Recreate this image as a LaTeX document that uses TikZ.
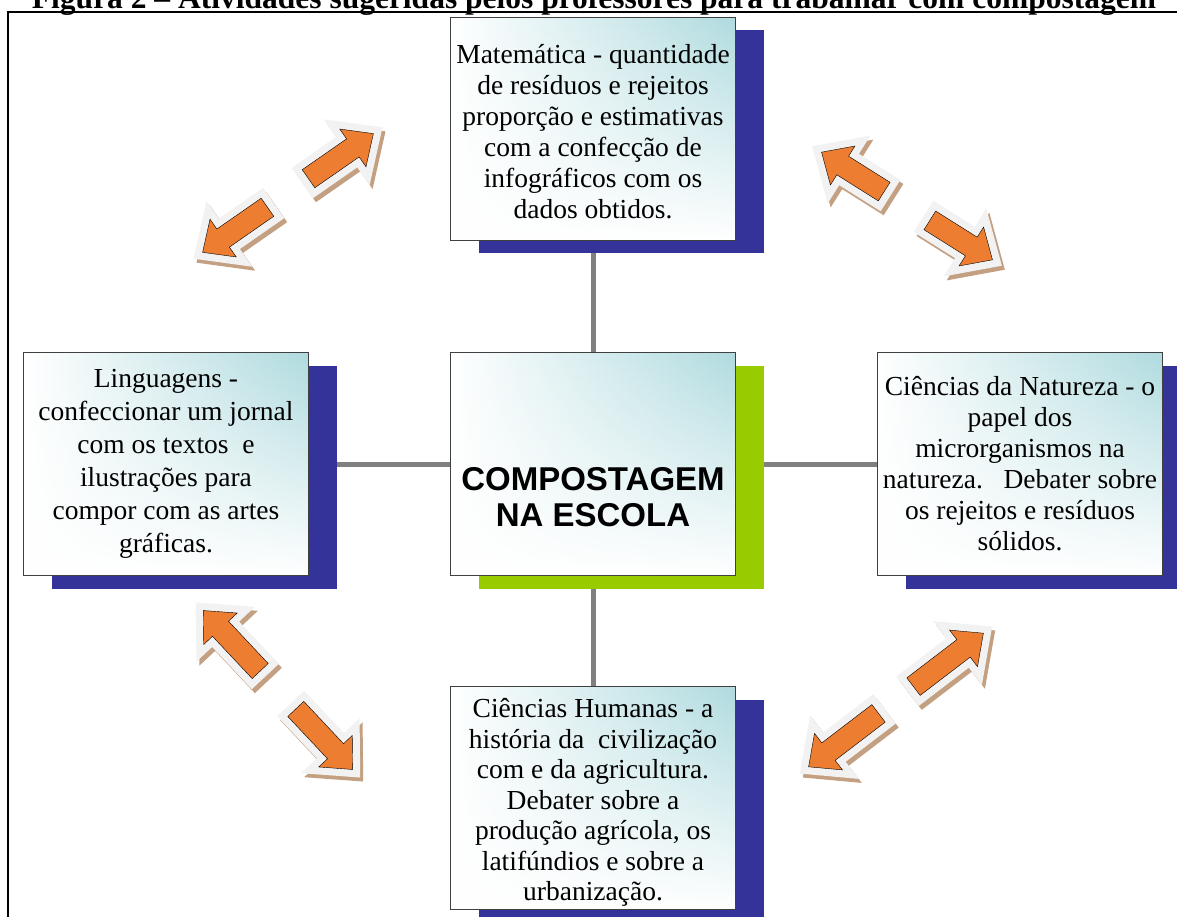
\documentclass[tikz,border=0pt]{standalone}
\usepackage{fontspec}
\setmainfont{Liberation Serif}
\setsansfont{Liberation Sans}
\usetikzlibrary{shadows, backgrounds, fadings}
\definecolor{shadeblue}{RGB}{51,51,153}
\definecolor{hubgreen}{RGB}{153,204,0}
\definecolor{boxteal}{RGB}{176,219,223}
\definecolor{linkgray}{RGB}{128,128,128}
\definecolor{arroworange}{RGB}{237,125,49}
\definecolor{arrowrim}{RGB}{242,242,242}
\definecolor{arrowtan}{RGB}{196,160,130}

\begin{document}
\begin{tikzpicture}[x=1pt, y=-1pt]
\tikzstyle{card} = [rectangle, draw=black!75, line width=1.2pt, minimum width=285pt, minimum height=223pt, left color=white, right color=boxteal, inner sep=0pt, path picture={\fill[white, path fading=north] (path picture bounding box.south west) rectangle (path picture bounding box.north east);}]
\tikzstyle{subject} = [card, align=center, font=\fontsize{27.5}{31}\selectfont, general shadow={fill=shadeblue, shadow xshift=28pt, shadow yshift=-13pt}]
\tikzstyle{hubcard} = [card, general shadow={fill=hubgreen, shadow xshift=28pt, shadow yshift=-13pt}]
\tikzstyle{hubtext} = [align=center, font=\sffamily\bfseries\fontsize{33}{36}\selectfont]
\tikzstyle{link} = [draw=linkgray, line width=5pt]
\tikzstyle{flow} = [fill=arroworange, preaction={draw=arrowtan, fill=arrowtan, line width=15pt, line join=miter, transform canvas={xshift=3pt, yshift=-4pt}}, preaction={draw=arrowrim, fill=arrowrim, line width=15pt, line join=miter}]
\useasboundingbox (0,0) rectangle (1177,917);
\node[anchor=base, font=\bfseries\fontsize{31.5}{31.5}\selectfont] (title) at (594,9) {Figura 2 – Atividades sugeridas pelos professores para trabalhar com compostagem};
\draw[line width=1.6pt] (8,940) |- (1200,12);
% the five cards
\node[hubcard] (hub) at (593,464) {};
\node[hubtext] (hubtitle) at (593,497) {COMPOSTAGEM\\NA ESCOLA};
\node[subject] (maths) at (593,129) {\\[-6pt]Matemática - quantidade\\de resíduos e rejeitos\\proporção e estimativas\\com a confecção de\\infográficos com os\\dados obtidos.};
\node[subject, font=\fontsize{27.5}{33}\selectfont] (langs) at (166,464) {Linguagens -\\confeccionar um jornal\\com os textos\ \ e\\ilustrações para\\compor com as artes\\gráficas.};
\node[subject] (nature) at (1020,464) {Ciências da Natureza - o\\papel dos\\microrganismos na\\natureza.\ \ \ Debater sobre\\os rejeitos e resíduos\\sólidos.};
\node[subject, font=\fontsize{27.5}{30.5}\selectfont] (human) at (593,798) {\\[-2pt]Ciências Humanas - a\\história da\ \ civilização\\com e da agricultura.\\Debater sobre a\\produção agrícola, os\\latifúndios e sobre a\\urbanização.};
\begin{pgfonlayer}{background}
\draw[link] (hub) -- (maths);
\draw[link] (hub) -- (langs);
\draw[link] (hub) -- (nature);
\draw[link] (hub) -- (human);
\end{pgfonlayer}
% broken double arrows
\begin{scope}[shift={(288,193)}, rotate=34.8]
\draw[flow] (25,-11) -- (79,-11) -- (79,-23) -- (104,0) -- (79,23) -- (79,11) -- (25,11) -- cycle
  (-25,-11) -- (-79,-11) -- (-79,-23) -- (-104,0) -- (-79,23) -- (-79,11) -- (-25,11) -- cycle;
\end{scope}
\begin{scope}[shift={(907,206)}, rotate=-32.2]
\draw[flow] (27,-11) -- (76,-11) -- (76,-23) -- (101,0) -- (76,23) -- (76,11) -- (27,11) -- cycle
  (-27,-11) -- (-76,-11) -- (-76,-23) -- (-101,0) -- (-76,23) -- (-76,11) -- (-27,11) -- cycle;
\end{scope}
\begin{scope}[shift={(278,690)}, rotate=-46.8]
\draw[flow] (26,-11) -- (84,-11) -- (84,-23) -- (109,0) -- (84,23) -- (84,11) -- (26,11) -- cycle
  (-26,-11) -- (-84,-11) -- (-84,-23) -- (-109,0) -- (-84,23) -- (-84,11) -- (-26,11) -- cycle;
\end{scope}
\begin{scope}[shift={(896,700)}, rotate=37.4]
\draw[flow] (22,-11) -- (85,-11) -- (85,-23) -- (110,0) -- (85,23) -- (85,11) -- (22,11) -- cycle
  (-22,-11) -- (-85,-11) -- (-85,-23) -- (-110,0) -- (-85,23) -- (-85,11) -- (-22,11) -- cycle;
\end{scope}
\end{tikzpicture}
\end{document}
